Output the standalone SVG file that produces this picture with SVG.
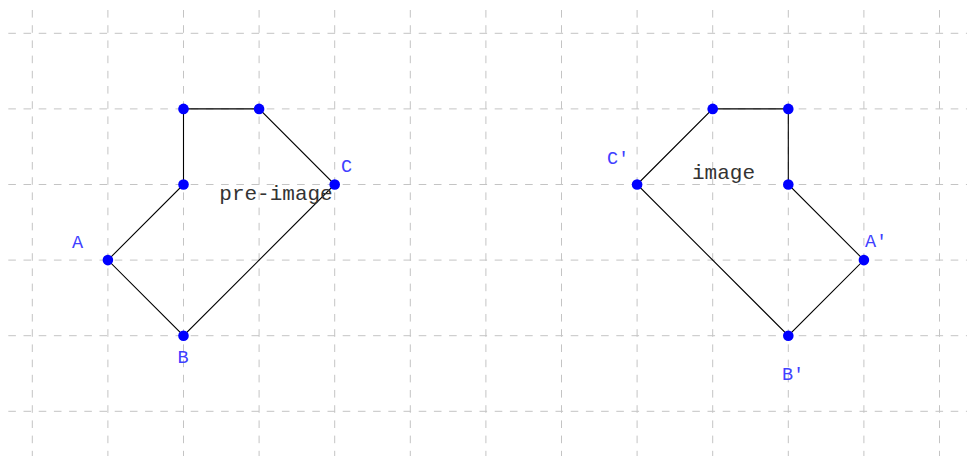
<svg xmlns="http://www.w3.org/2000/svg" width="967" height="456" viewBox="0 0 967 456">
<style>
.grid line{stroke:#c4c4c4;stroke-width:1;stroke-dasharray:7.6 7.6}
.edge{stroke:#000;stroke-width:1.1;fill:none}
.pt{fill:#0000ff}
.lbl{font-family:"Liberation Mono","Courier New",monospace;font-size:18.5px;fill:#4040ff}
.title{font-family:"Liberation Mono","Courier New",monospace;font-size:21px;fill:#333;text-anchor:middle}
</style>
<rect width="967" height="456" fill="#fff"/>
<g class="grid">
<line x1="8.3" y1="33.3" x2="967" y2="33.3"/>
<line x1="8.3" y1="108.9" x2="967" y2="108.9"/>
<line x1="8.3" y1="184.5" x2="967" y2="184.5"/>
<line x1="8.3" y1="260.1" x2="967" y2="260.1"/>
<line x1="8.3" y1="335.7" x2="967" y2="335.7"/>
<line x1="8.3" y1="411.3" x2="967" y2="411.3"/>
<line x1="32.3" y1="10" x2="32.3" y2="456"/>
<line x1="107.9" y1="10" x2="107.9" y2="456"/>
<line x1="183.5" y1="10" x2="183.5" y2="456"/>
<line x1="259.1" y1="10" x2="259.1" y2="456"/>
<line x1="334.7" y1="10" x2="334.7" y2="456"/>
<line x1="410.3" y1="10" x2="410.3" y2="456"/>
<line x1="485.9" y1="10" x2="485.9" y2="456"/>
<line x1="561.5" y1="10" x2="561.5" y2="456"/>
<line x1="637.1" y1="10" x2="637.1" y2="456"/>
<line x1="712.7" y1="10" x2="712.7" y2="456"/>
<line x1="788.3" y1="10" x2="788.3" y2="456"/>
<line x1="863.9" y1="10" x2="863.9" y2="456"/>
<line x1="939.5" y1="10" x2="939.5" y2="456"/>
</g>
<g id="connectors">
<polygon class="edge" points="107.9,260.1 183.5,184.5 183.5,108.9 259.1,108.9 334.7,184.5 183.5,335.7"/>
<polygon class="edge" points="637.1,184.5 712.7,108.9 788.3,108.9 788.3,184.5 863.9,260.1 788.3,335.7"/>
</g>
<g id="A"><circle class="pt" cx="107.9" cy="260.1" r="5.3"/><text class="lbl" x="77.5" y="248" text-anchor="middle">A</text></g>
<g id="P1"><circle class="pt" cx="183.5" cy="184.5" r="5.3"/></g>
<g id="P2"><circle class="pt" cx="183.5" cy="108.9" r="5.3"/></g>
<g id="P3"><circle class="pt" cx="259.1" cy="108.9" r="5.3"/></g>
<g id="C"><circle class="pt" cx="334.7" cy="184.5" r="5.3"/><text class="lbl" x="346.5" y="172" text-anchor="middle">C</text></g>
<g id="B"><circle class="pt" cx="183.5" cy="335.7" r="5.3"/><text class="lbl" x="183" y="363" text-anchor="middle">B</text></g>
<g id="Cp"><circle class="pt" cx="637.1" cy="184.5" r="5.3"/><text class="lbl" x="607" y="164">C′</text></g>
<g id="Q1"><circle class="pt" cx="712.7" cy="108.9" r="5.3"/></g>
<g id="Q2"><circle class="pt" cx="788.3" cy="108.9" r="5.3"/></g>
<g id="Q3"><circle class="pt" cx="788.3" cy="184.5" r="5.3"/></g>
<g id="Ap"><circle class="pt" cx="863.9" cy="260.1" r="5.3"/><text class="lbl" x="865" y="247">A′</text></g>
<g id="Bp"><circle class="pt" cx="788.3" cy="335.7" r="5.3"/><text class="lbl" x="782" y="380">B′</text></g>
<g id="pre-image"><text class="title" x="276" y="200">pre-image</text></g>
<g id="image"><text class="title" x="723.5" y="179">image</text></g>
</svg>
